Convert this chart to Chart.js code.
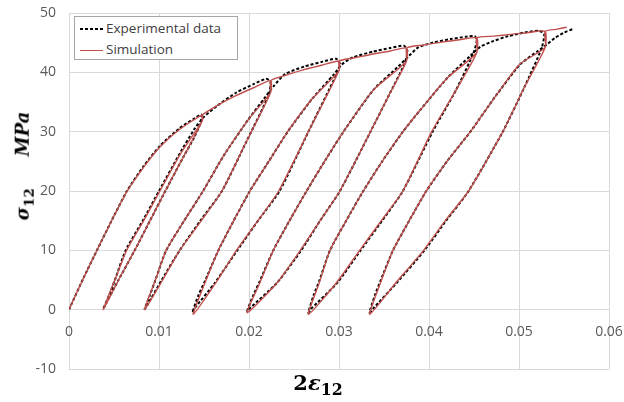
<!DOCTYPE html>
<html lang="en">
<head>
<meta charset="UTF-8">
<title>Cyclic shear: experiment vs simulation</title>
<script src="https://cdn.jsdelivr.net/npm/chart.js"></script>
<style>
  body { margin: 0; background: #fff; }
  #wrap { position: relative; width: 624px; height: 402px; }
  .legend {
    position: absolute; left: 74px; top: 16px; width: 164px; height: 44px;
    box-sizing: border-box; border: 1px solid #a6a6a6; background: #fff;
    font-family: "Open Sans", sans-serif; font-size: 13.5px; color: #404040;
  }
  .legend .row { position: absolute; left: 5px; height: 20px; line-height: 20px; white-space: nowrap; }
  .legend .key { display: inline-block; width: 23px; height: 2px; vertical-align: middle; margin-right: 3px; }
  .key.dash { background: repeating-linear-gradient(to right, #000 0 3px, transparent 3px 5px); }
  .key.solid { background: #c0504d; height: 1.5px; }
  .ytitle {
    position: absolute; left: 24px; top: 166px; white-space: nowrap;
    transform: translate(-50%, -50%) rotate(-90deg);
    font-family: "DejaVu Serif", serif; font-weight: bold; font-size: 18px; color: #000;
  }
  .xtitle {
    position: absolute; left: 318px; top: 372px; transform: translateX(-50%);
    white-space: nowrap; line-height: 1;
    font-family: "DejaVu Serif", serif; font-weight: bold; font-size: 21px; color: #000;
  }
  sub { font-size: 0.75em; font-style: normal; }
</style>
</head>
<body>
<div id="wrap">
  <canvas id="loopChart"></canvas>
  <div class="legend">
    <div class="row" style="top:1px"><span class="key dash"></span>Experimental data</div>
    <div class="row" style="top:22px"><span class="key solid"></span>Simulation</div>
  </div>
  <div class="ytitle"><i>σ</i><sub>12</sub><span style="margin-left:32px"><i>MPa</i></span></div>
  <div class="xtitle">2<i>ε</i><sub>12</sub></div>
</div>

<script>
// measured curve (strain 2e12, stress MPa), in loading order
const expStrain = [
  0, 0.0016, 0.0032, 0.0048, 0.0064, 0.0082, 0.0101, 0.0123, 0.0140, 0.0147,
  0.0146, 0.0139, 0.0128, 0.0107, 0.0090, 0.0073, 0.0055, 0.0041, 0.0038,
  0.0045, 0.0051, 0.0063, 0.0082, 0.0100, 0.0123, 0.0140, 0.0150,
  0.0165, 0.0186, 0.0205, 0.0219, 0.0224, 0.0222,
  0.0197, 0.0170, 0.0146, 0.0123, 0.0103, 0.0088, 0.0084,
  0.0090, 0.0096, 0.0108, 0.0128, 0.0149, 0.0172, 0.0199, 0.0217, 0.0227,
  0.0240, 0.0262, 0.0282, 0.0297, 0.0301, 0.0297,
  0.0266, 0.0234, 0.0210, 0.0187, 0.0162, 0.0140, 0.0137,
  0.0144, 0.0151, 0.0166, 0.0183, 0.0201, 0.0222, 0.0243, 0.0270, 0.0294, 0.0303,
  0.0315, 0.0338, 0.0357, 0.0372, 0.0376, 0.0373,
  0.0355, 0.0335, 0.0301, 0.0279, 0.0258, 0.0231, 0.0202, 0.0198,
  0.0205, 0.0212, 0.0227, 0.0245, 0.0264, 0.0284, 0.0305, 0.0338, 0.0366, 0.0378,
  0.0388, 0.0404, 0.0424, 0.0441, 0.0451, 0.0453, 0.0449,
  0.0430, 0.0404, 0.0371, 0.0348, 0.0324, 0.0298, 0.0270, 0.0266,
  0.0272, 0.0278, 0.0290, 0.0308, 0.0327, 0.0348, 0.0371, 0.0390, 0.0420, 0.0446, 0.0457,
  0.0472, 0.0488, 0.0506, 0.0522, 0.0528, 0.0525,
  0.0506, 0.0482, 0.0444, 0.0419, 0.0395, 0.0364, 0.0338, 0.0334,
  0.0340, 0.0346, 0.0360, 0.0378, 0.0397, 0.0420, 0.0446, 0.0474, 0.0501, 0.0521, 0.0531,
  0.0540, 0.0550, 0.0560
];
const expStress = [
  0, 5.3, 10.3, 15.2, 19.9, 24.0, 27.6, 30.6, 32.3, 32.9,
  31.4, 29.0, 26.0, 20.0, 15.0, 10.0, 5.0, 1.0, 0.1,
  2.6, 5.0, 10.0, 15.0, 20.0, 26.3, 30.6, 32.5,
  34.4, 36.6, 38.0, 38.9, 38.4, 36.2,
  28.3, 20.0, 15.0, 10.0, 5.0, 1.0, 0.1,
  2.5, 5.0, 10.0, 15.0, 20.0, 26.0, 32.0, 35.6, 37.6,
  39.7, 41.0, 41.8, 42.3, 41.4, 39.6,
  30.0, 20.0, 15.0, 10.0, 4.5, 0.3, -0.5,
  2.5, 4.8, 10.0, 15.0, 20.0, 25.0, 30.0, 35.5, 39.6, 41.3,
  42.5, 43.5, 44.1, 44.5, 43.6, 41.5,
  36.0, 30.0, 20.0, 15.0, 10.0, 4.5, 0.4, -0.2,
  2.5, 4.8, 10.0, 15.0, 20.0, 25.0, 30.0, 37.0, 41.0, 42.8,
  44.2, 45.0, 45.6, 46.0, 46.1, 45.2, 43.1,
  37.0, 30.0, 20.0, 15.0, 10.0, 4.5, 0.3, -0.5,
  2.5, 4.8, 10.0, 15.0, 20.0, 25.0, 30.0, 33.6, 39.0, 42.8, 44.3,
  45.3, 46.1, 46.7, 47.0, 46.5, 44.0,
  37.5, 30.0, 20.0, 15.0, 10.0, 4.5, 0.2, -0.5,
  2.5, 4.8, 10.0, 15.0, 20.0, 25.0, 30.0, 36.0, 41.3, 43.6, 44.7,
  45.8, 46.7, 47.3
];

// model curve
const simStrain = [
  0, 0.0016, 0.0032, 0.0048, 0.0064, 0.0082, 0.0101, 0.0123, 0.0148, 0.0148,
  0.0128, 0.0107, 0.0090, 0.0073, 0.0055, 0.0038,
  0.0051, 0.0064, 0.0083, 0.0101, 0.0124, 0.0148, 0.0148,
  0.0167, 0.0186, 0.0205, 0.0224, 0.0224,
  0.0197, 0.0170, 0.0147, 0.0123, 0.0104, 0.0084,
  0.0096, 0.0108, 0.0128, 0.0149, 0.0172, 0.0199, 0.0224, 0.0224,
  0.0243, 0.0262, 0.0281, 0.0300, 0.0300,
  0.0266, 0.0233, 0.0210, 0.0186, 0.0163, 0.0138,
  0.0151, 0.0166, 0.0183, 0.0201, 0.0222, 0.0243, 0.0270, 0.0300, 0.0300,
  0.0319, 0.0338, 0.0357, 0.0375, 0.0375,
  0.0355, 0.0335, 0.0301, 0.0279, 0.0257, 0.0231, 0.0198,
  0.0212, 0.0227, 0.0245, 0.0264, 0.0284, 0.0305, 0.0338, 0.0375, 0.0375,
  0.0394, 0.0414, 0.0434, 0.0453, 0.0453,
  0.0430, 0.0403, 0.0371, 0.0347, 0.0323, 0.0297, 0.0266,
  0.0278, 0.0290, 0.0308, 0.0327, 0.0348, 0.0371, 0.0390, 0.0420, 0.0453, 0.0453,
  0.0472, 0.0491, 0.0510, 0.0529, 0.0529,
  0.0506, 0.0482, 0.0444, 0.0418, 0.0394, 0.0363, 0.0334,
  0.0346, 0.0360, 0.0378, 0.0397, 0.0420, 0.0446, 0.0474, 0.0501, 0.0529, 0.0529,
  0.0541, 0.0553
];
const simStress = [
  0, 5.3, 10.3, 15.2, 19.8, 23.8, 27.4, 30.4, 32.8, 31.8,
  26.0, 20.0, 15.0, 10.0, 5.0, 0,
  5.0, 10.0, 15.0, 20.0, 26.3, 31.8, 32.8,
  34.6, 36.1, 37.4, 38.6, 36.6,
  28.3, 20.0, 15.0, 10.0, 5.0, 0,
  5.0, 10.0, 15.0, 20.0, 26.0, 32.0, 36.6, 38.6,
  39.6, 40.5, 41.2, 41.9, 40.3,
  30.0, 20.0, 15.0, 10.0, 4.5, -0.8,
  4.5, 10.0, 15.0, 20.0, 25.0, 30.0, 35.5, 40.3, 41.9,
  42.5, 43.1, 43.6, 44.1, 41.9,
  36.0, 30.0, 20.0, 15.0, 10.0, 4.5, -0.5,
  4.5, 10.0, 15.0, 20.0, 25.0, 30.0, 37.0, 41.9, 44.1,
  44.6, 45.1, 45.5, 45.8, 43.3,
  37.0, 30.0, 20.0, 15.0, 10.0, 4.5, -0.8,
  4.5, 10.0, 15.0, 20.0, 25.0, 30.0, 33.6, 39.0, 43.3, 45.8,
  46.1, 46.4, 46.7, 46.9, 44.2,
  37.5, 30.0, 20.0, 15.0, 10.0, 4.5, -0.8,
  4.5, 10.0, 15.0, 20.0, 25.0, 30.0, 36.0, 41.4, 44.2, 46.9,
  47.25, 47.6
];

const xTicks = [0, 0.01, 0.02, 0.03, 0.04, 0.05, 0.06];
const yTicks = [-10, 0, 10, 20, 30, 40, 50];

function toPoints(xs, ys) {
  return xs.map((x, i) => ({ x: x, y: ys[i] }));
}

const tickFont = { family: '"Open Sans", sans-serif', size: 14 };
const gridColor = '#d9d9d9';
const noTick = 'rgba(0,0,0,0)';

const ctx = document.getElementById('loopChart').getContext('2d');
new Chart(ctx, {
  type: 'scatter',
  data: {
    datasets: [
      {
        label: 'Experimental data',
        data: toPoints(expStrain, expStress),
        showLine: true,
        borderColor: '#000',
        borderWidth: 2,
        borderDash: [3, 2],
        pointRadius: 0,
        tension: 0.2,
        order: 2
      },
      {
        label: 'Simulation',
        data: toPoints(simStrain, simStress),
        showLine: true,
        borderColor: '#c0504d',
        borderWidth: 1.4,
        pointRadius: 0,
        tension: 0.2,
        order: 1
      }
    ]
  },
  options: {
    responsive: true,
    maintainAspectRatio: false,
    animation: false,
    layout: { padding: { left: 0, right: 15, top: 13, bottom: 33 } },
    plugins: {
      legend: { display: false },
      tooltip: { enabled: false }
    },
    scales: {
      x: {
        type: 'linear',
        position: { y: 0 },
        min: xTicks[0],
        max: xTicks[xTicks.length - 1],
        afterBuildTicks: s => { s.ticks = xTicks.map(v => ({ value: v })); },
        ticks: {
          padding: 0,
          color: '#595959',
          font: tickFont,
          callback: v => (v === 0 ? '0' : v.toFixed(2))
        },
        // invisible tick marks push labels below the zero line
        grid: { color: gridColor, drawTicks: true, tickLength: 14, tickColor: noTick },
        border: { display: false }
      },
      y: {
        min: yTicks[0],
        max: yTicks[yTicks.length - 1],
        afterBuildTicks: s => { s.ticks = yTicks.map(v => ({ value: v })); },
        afterFit: s => { s.width = 69; },
        ticks: {
          padding: 0,
          color: '#595959',
          font: tickFont
        },
        grid: { color: gridColor, drawTicks: true, tickLength: 13, tickColor: noTick },
        border: { display: false }
      }
    }
  }
});
</script>
</body>
</html>
